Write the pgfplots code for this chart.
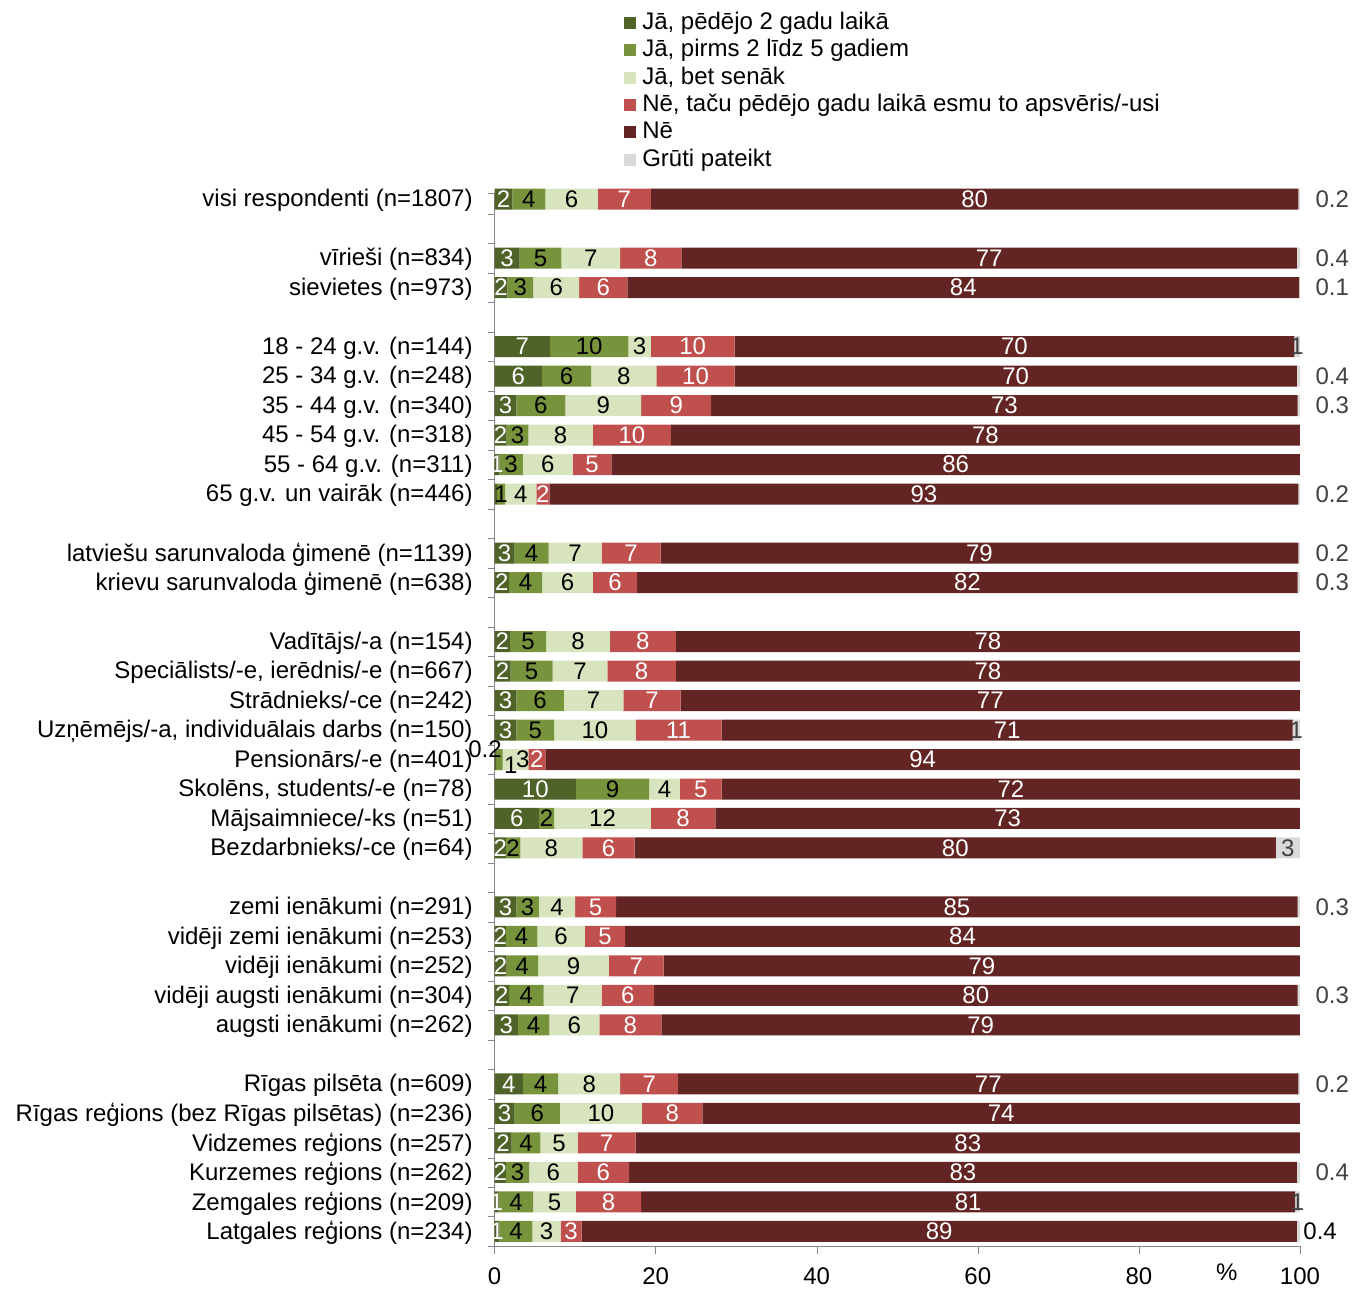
\documentclass[border=0pt]{standalone}
\usepackage{pgfplots}
\usepackage{pgfplotstable}
\pgfplotsset{compat=1.18}
\usepackage{fontspec}
\setmainfont{Liberation Sans}

\definecolor{dgreen}{HTML}{4F6228}
\definecolor{mgreen}{HTML}{77933C}
\definecolor{lgreen}{HTML}{D7E4BD}
\definecolor{lred}{HTML}{C0504D}
\definecolor{dred}{HTML}{632523}
\definecolor{lgrey}{HTML}{D9D9D9}
\definecolor{axgrey}{HTML}{868686}
\definecolor{lblgrey}{HTML}{404040}

% y = row position from the bottom; a..f = segment shares (%), la..lf = printed labels
\pgfplotstableread{
y  a    b    c    d    e    f    la lb lc ld le lf
35 2.2  4.1  6.5  6.6  80.4 0.2  2  4  6  7  80 {}
33 3.1  5.2  7.3  7.6  76.4 0.4  3  5  7  8  77 {}
32 1.6  3.2  5.7  6.0  83.4 0.1  2  3  6  6  84 {}
30 6.9  9.7  2.8  10.4 69.5 0.7  7  10 3  10 70 1
29 5.9  6.1  8.1  9.7  69.8 0.4  6  6  8  10 70 {}
28 2.7  6.1  9.4  8.7  72.8 0.3  3  6  9  9  73 {}
27 1.5  2.7  8.0  9.7  78.1 0    2  3  8  10 78 {}
26 0.6  2.9  6.2  4.8  85.5 0    1  3  6  5  86 {}
25 0.3  1.0  3.9  1.6  93.0 0.2  {} 1  4  2  93 {}
23 2.5  4.2  6.6  7.3  79.2 0.2  3  4  7  7  79 {}
22 1.8  4.1  6.3  5.5  82.0 0.3  2  4  6  6  82 {}
20 1.9  4.5  7.9  8.2  77.5 0    2  5  8  8  78 {}
19 2.0  5.2  6.8  8.5  77.5 0    2  5  7  8  78 {}
18 2.7  5.9  7.4  7.1  76.9 0    3  6  7  7  77 {}
17 2.7  4.7  10.1 10.7 70.9 0.9  3  5  10 11 71 1
16 0.2  0.8  3.2  2.1  93.7 0    {} {} {} 2  94 {}
15 10.1 9.1  3.8  5.2  71.8 0    10 9  4  5  72 {}
14 5.5  1.9  12.0 8.0  72.6 0    6  2  12 8  73 {}
13 1.4  1.8  7.7  6.5  79.6 3.0  2  2  8  6  80 3
11 2.7  2.8  4.5  5.1  84.6 0.3  3  3  4  5  85 {}
10 1.4  3.9  5.9  5.0  83.8 0    2  4  6  5  84 {}
9  1.5  3.9  8.8  6.8  79.0 0    2  4  9  7  79 {}
8  1.8  4.3  7.2  6.5  79.9 0.3  2  4  7  6  80 {}
7  2.9  3.9  6.2  7.7  79.3 0    3  4  6  8  79 {}
5  3.5  4.4  7.7  7.2  77.0 0.2  4  4  8  7  77 {}
4  2.5  5.6  10.2 7.5  74.2 0    3  6  10 8  74 {}
3  2.1  3.6  4.6  7.2  82.5 0    2  4  5  7  83 {}
2  1.4  2.9  6.0  6.4  82.9 0.4  2  3  6  6  83 {}
1  0.5  4.3  5.3  8.1  81.2 0.6  1  4  5  8  81 1
0  0.6  4.1  3.5  2.6  88.8 0.4  1  4  3  3  89 {}
}\data

\begin{document}
\fontsize{12}{14}\selectfont
\begin{tikzpicture}
\begin{axis}[
    name=ax,
    scale only axis,
    width=402.7pt, height=526.5pt,
    xbar stacked, bar width=10.5pt,
    xmin=0, xmax=100, ymin=-0.5, ymax=35.2,
    clip=false,
    axis lines*=left,
    axis line style={axgrey},
    tick align=outside,
    major tick length=4pt, minor tick length=3.5pt,
    xtick={0,20,...,100},
    xtick style={axgrey},
    xticklabel style={yshift=-2.5pt},
    ytick={35,33,32,30,29,28,27,26,25,23,22,20,19,18,17,16,15,14,13,11,10,9,8,7,5,4,3,2,1,0},
    yticklabels={
      {visi respondenti (n=1807)},
      {vīrieši (n=834)}, {sievietes (n=973)},
      {18 - 24 g.v. (n=144)}, {25 - 34 g.v. (n=248)}, {35 - 44 g.v. (n=340)},
      {45 - 54 g.v. (n=318)}, {55 - 64 g.v. (n=311)}, {65 g.v. un vairāk (n=446)},
      {latviešu sarunvaloda ģimenē (n=1139)}, {krievu sarunvaloda ģimenē (n=638)},
      {Vadītājs/-a (n=154)}, {Speciālists/-e, ierēdnis/-e (n=667)},
      {Strādnieks/-ce (n=242)}, {Uzņēmējs/-a, individuālais darbs (n=150)},
      {Pensionārs/-e (n=401)}, {Skolēns, students/-e (n=78)},
      {Mājsaimniece/-ks (n=51)}, {Bezdarbnieks/-ce (n=64)},
      {zemi ienākumi (n=291)}, {vidēji zemi ienākumi (n=253)},
      {vidēji ienākumi (n=252)}, {vidēji augsti ienākumi (n=304)},
      {augsti ienākumi (n=262)},
      {Rīgas pilsēta (n=609)}, {Rīgas reģions (bez Rīgas pilsētas) (n=236)},
      {Vidzemes reģions (n=257)}, {Kurzemes reģions (n=262)},
      {Zemgales reģions (n=209)}, {Latgales reģions (n=234)}},
    major y tick style={draw=none},
    minor ytick={-0.5,0.5,...,34.5,35.2},
    minor y tick style={axgrey},
    yticklabel style={xshift=-2.8pt, yshift=-0.8pt},
    /pgf/number format/assume math mode=true,
    xlabel={\%},
    xlabel style={at={(axis description cs:0.909,0)}, anchor=center, yshift=-13.2pt},
    point meta=explicit symbolic,
    nodes near coords,
    legend cell align=left,
    legend style={at={(0.1605,1.1741)}, anchor=north west, draw=none, fill=none,
      inner xsep=0pt, inner ysep=0pt, column sep=3pt, row sep=1.2pt,
      nodes={inner sep=0pt, text height=9.5pt, text depth=3pt}},
    legend image code/.code={\fill[#1] (0pt,-3pt) rectangle (6pt,3pt);},
]
\addplot[fill=dgreen, draw=none, every node near coord/.append style={text=white}]
  table[x=a, y=y, meta=la] {\data};
\addlegendentry{Jā, pēdējo 2 gadu laikā}
\addplot[fill=mgreen, draw=none, every node near coord/.append style={text=black}]
  table[x=b, y=y, meta=lb] {\data};
\addlegendentry{Jā, pirms 2 līdz 5 gadiem}
\addplot[fill=lgreen, draw=none, every node near coord/.append style={text=black}]
  table[x=c, y=y, meta=lc] {\data};
\addlegendentry{Jā, bet senāk}
\addplot[fill=lred, draw=none, every node near coord/.append style={text=white}]
  table[x=d, y=y, meta=ld] {\data};
\addlegendentry{Nē, taču pēdējo gadu laikā esmu to apsvēris/-usi}
\addplot[fill=dred, draw=none, every node near coord/.append style={text=white}]
  table[x=e, y=y, meta=le] {\data};
\addlegendentry{Nē}
\addplot[fill=lgrey, draw=none, every node near coord/.append style={text=lblgrey}]
  table[x=f, y=y, meta=lf] {\data};
\addlegendentry{Grūti pateikt}

% small "Grūti pateikt" shares written beside the bars
\node[text=lblgrey] at (axis cs:104,35) {0.2};
\node[text=lblgrey] at (axis cs:104,33) {0.4};
\node[text=lblgrey] at (axis cs:104,32) {0.1};
\node[text=lblgrey] at (axis cs:104,29) {0.4};
\node[text=lblgrey] at (axis cs:104,28) {0.3};
\node[text=lblgrey] at (axis cs:104,25) {0.2};
\node[text=lblgrey] at (axis cs:104,23) {0.2};
\node[text=lblgrey] at (axis cs:104,22) {0.3};
\node[text=lblgrey] at (axis cs:104,11) {0.3};
\node[text=lblgrey] at (axis cs:104,8) {0.3};
\node[text=lblgrey] at (axis cs:104,5) {0.2};
\node[text=lblgrey] at (axis cs:104,2) {0.4};
\node at (axis cs:102.5,0) {0.4};
% anchor points for the displaced labels of the thin Pensionari segments
\coordinate (pa) at (axis cs:-1.2,16.36);
\coordinate (pb) at (axis cs:2.0,15.81);
\coordinate (pc) at (axis cs:3.5,16);
\end{axis}
\node at (pa) {0.2};
\node at (pb) {1};
\node at (pc) {3};
\path (ax.south west) ++(-247.3pt,-20.9pt) rectangle ++(678.5pt,644pt);
\end{tikzpicture}
\end{document}
